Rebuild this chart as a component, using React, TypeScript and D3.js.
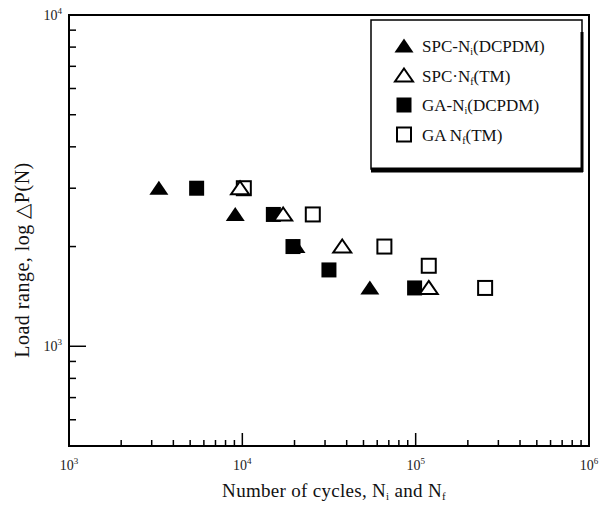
import React from "react";
import * as d3 from "d3";

const spcNi: [number, number][] = [[3300, 3000], [9100, 2500], [20400, 2000], [54400, 1500]];
const spcNf: [number, number][] = [[9700, 3000], [17200, 2500], [37700, 2000], [119000, 1500]];
const gaNi: [number, number][] = [[5450, 3000], [15100, 2500], [19600, 2000], [31600, 1700], [98600, 1500]];
const gaNf: [number, number][] = [[10200, 3000], [25500, 2500], [66000, 2000], [119000, 1750], [251600, 1500]];

const xMajor = [1e4, 1e5];
const xMinor = [2, 3, 4, 5, 6, 7, 8, 9].flatMap((m) => [m * 1e3, m * 1e4, m * 1e5]);
const yMajor = [1000];
const yMinor = [600, 700, 800, 900, 2000, 3000, 4000, 5000, 6000, 7000, 8000, 9000];
const xTickLabels = [[1e3, "3"], [1e4, "4"], [1e5, "5"], [1e6, "6"]] as [number, string][];
const yTickLabels = [[1e4, "4"], [1e3, "3"]] as [number, string][];

const legendItems = [
  { shape: "tri", filled: true, pre: "SPC-N", sub: "i", post: "(DCPDM)" },
  { shape: "tri", filled: false, pre: "SPC·N", sub: "f", post: "(TM)" },
  { shape: "sq", filled: true, pre: "GA-N", sub: "i", post: "(DCPDM)" },
  { shape: "sq", filled: false, pre: "GA N", sub: "f", post: "(TM)" },
];

const FONT = "'Liberation Serif', 'Times New Roman', serif";

const x = d3.scaleLog().domain([1e3, 1e6]).range([69, 589]);
const y = d3.scaleLog().domain([500, 1e4]).range([446, 15]);

function Marker({ shape, filled, cx, cy }: { shape: string; filled: boolean; cx: number; cy: number }) {
  if (shape === "sq") {
    const s = filled ? 15 : 14;
    return (
      <rect
        x={cx - s / 2}
        y={cy - s / 2}
        width={s}
        height={s}
        fill={filled ? "#000" : "#fff"}
        stroke="#000"
        strokeWidth={filled ? 0 : 2}
      />
    );
  }
  const w = filled ? 19 : 18;
  const h = filled ? 13 : 12;
  const p = d3.path();
  p.moveTo(cx, cy - h / 2 - 1);
  p.lineTo(cx + w / 2, cy + h / 2);
  p.lineTo(cx - w / 2, cy + h / 2);
  p.closePath();
  return (
    <path
      d={p.toString()}
      fill={filled ? "#000" : "#fff"}
      stroke="#000"
      strokeWidth={filled ? 0 : 2}
      strokeLinejoin="miter"
    />
  );
}

export default function App() {
  const x0 = x.range()[0];
  const x1 = x.range()[1];
  const yb = y.range()[0];
  const yt = y.range()[1];
  const lx = 371, ly = 20, lw = 211, lh = 149;
  return (
    <svg
      width={605}
      height={508}
      style={{ position: "absolute", left: 0, top: 0, background: "#fff" }}
      fontFamily={FONT}
    >
      <rect x={0} y={0} width={605} height={508} fill="#fff" />
      {/* frame */}
      <rect x={x0} y={yt} width={x1 - x0} height={yb - yt} fill="none" stroke="#000" strokeWidth={2} />
      {/* y ticks */}
      {yMinor.map((v) => (
        <line key={"ym" + v} x1={x0} x2={x0 + 7} y1={y(v)} y2={y(v)} stroke="#000" strokeWidth={1.5} />
      ))}
      {yMajor.map((v) => (
        <line key={"yM" + v} x1={x0} x2={x0 + 17} y1={y(v)} y2={y(v)} stroke="#000" strokeWidth={1.5} />
      ))}
      {/* x ticks */}
      {xMinor.map((v) => (
        <line key={"xm" + v} x1={x(v)} x2={x(v)} y1={yb} y2={yb - 6} stroke="#000" strokeWidth={1.5} />
      ))}
      {xMajor.map((v) => (
        <line key={"xM" + v} x1={x(v)} x2={x(v)} y1={yb} y2={yb - 13} stroke="#000" strokeWidth={1.5} />
      ))}
      {/* tick labels */}
      {xTickLabels.map(([v, e]) => (
        <text key={"xl" + v} x={x(v)} y={470} textAnchor="middle" fontSize={14} fill="#222">
          10<tspan fontSize={9} dy={-6}>{e}</tspan>
        </text>
      ))}
      {yTickLabels.map(([v, e]) => (
        <text key={"yl" + v} x={62} y={y(v) + 5} textAnchor="end" fontSize={14} fill="#222">
          10<tspan fontSize={9} dy={-6}>{e}</tspan>
        </text>
      ))}
      {/* axis titles */}
      <text x={334} y={497} textAnchor="middle" fontSize={19} letterSpacing={0.3} fill="#111">
        Number of cycles, N<tspan fontSize={11} dy={3}>i</tspan>
        <tspan dy={-3}> and N</tspan>
        <tspan fontSize={11} dy={3}>f</tspan>
      </text>
      <text
        transform={`translate(29, 260) rotate(-90)`}
        textAnchor="middle"
        fontSize={20}
        letterSpacing={0.5}
        fill="#111"
      >
        Load range, log △P(N)
      </text>
      {/* data */}
      {gaNi.map(([a, b], i) => (
        <Marker key={"gi" + i} shape="sq" filled={true} cx={x(a)} cy={y(b)} />
      ))}
      {gaNf.map(([a, b], i) => (
        <Marker key={"gf" + i} shape="sq" filled={false} cx={x(a)} cy={y(b)} />
      ))}
      {spcNi.map(([a, b], i) => (
        <Marker key={"si" + i} shape="tri" filled={true} cx={x(a)} cy={y(b)} />
      ))}
      {spcNf.map(([a, b], i) => (
        <Marker key={"sf" + i} shape="tri" filled={false} cx={x(a)} cy={y(b)} />
      ))}
      {/* legend */}
      <rect x={lx} y={ly} width={lw} height={lh} fill="#fff" stroke="#000" strokeWidth={1.5} />
      <line x1={lx} x2={lx + lw + 1} y1={ly + lh + 1} y2={ly + lh + 1} stroke="#000" strokeWidth={5} />
      <line x1={lx + lw} x2={lx + lw} y1={ly + 12} y2={ly + lh + 3} stroke="#000" strokeWidth={3} />
      {legendItems.map((it, i) => {
        const cy = 46 + i * 29.5;
        return (
          <g key={"lg" + i}>
            <Marker shape={it.shape} filled={it.filled} cx={404} cy={cy} />
            <text x={422} y={cy + 6} fontSize={17} fill="#111">
              {it.pre}
              <tspan fontSize={10} dy={3}>{it.sub}</tspan>
              <tspan dy={-3}>{it.post}</tspan>
            </text>
          </g>
        );
      })}
    </svg>
  );
}
